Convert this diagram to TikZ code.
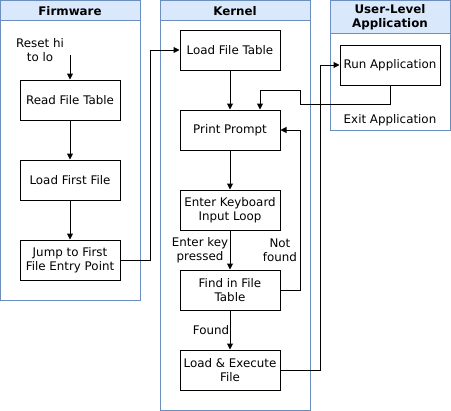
\documentclass[tikz,border=0pt]{standalone}
\usepackage{fontspec}
\setmainfont{DejaVu Sans}
\usetikzlibrary{arrows.meta}
\definecolor{laneborder}{HTML}{6C8EBF}
\definecolor{lanefill}{HTML}{DAE8FC}
\begin{document}
\begin{tikzpicture}[x=0.75pt,y=-0.75pt,
  every node/.style={font=\fontsize{8.9}{10.5}\selectfont, inner sep=0pt, align=center},
  stepbox/.style={draw=black, line width=0.75pt, minimum width=75pt, minimum height=30pt},
  lanebox/.style={draw=laneborder, line width=0.75pt},
  headbox/.style={draw=laneborder, fill=lanefill, line width=0.75pt},
  headtext/.style={font=\fontsize{8.9}{10.5}\selectfont\bfseries},
  conn/.style={draw=black, line width=0.75pt},
  arr/.style={conn, -{Triangle[length=4.5pt,width=4.5pt]}},
  lbl/.style={fill=white, inner sep=0.5pt}
]
\useasboundingbox (0,0) rectangle (451,411);
% lanes
\draw[lanebox] (0.5,0.5) rectangle (140,300);
\draw[headbox] (0.5,0.5) rectangle (140,20.5);
\node[headtext] (hfw) at (70,11) {Firmware};
\draw[lanebox] (160,0.5) rectangle (310,410);
\draw[headbox] (160,0.5) rectangle (310,20.5);
\node[headtext] (hk) at (235,11) {Kernel};
\draw[lanebox] (330,0.5) rectangle (450,130);
\draw[headbox] (330,0.5) rectangle (450,33);
\node[headtext] (hu) at (390,17) {User-Level\\Application};
% firmware
\node (reset) at (40,50) {Reset hi\\to lo};
\coordinate (rstart) at (70,55);
\node[stepbox] (rft) at (70,100) {Read File Table};
\node[stepbox] (lff) at (70,180) {Load First File};
\node[stepbox] (jmp) at (70,260) {Jump to First\\File Entry Point};
% kernel
\node[stepbox] (lft) at (230,50) {Load File Table};
\node[stepbox] (pp) at (230,130) {Print Prompt};
\node[stepbox] (ekl) at (230,210) {Enter Keyboard\\Input Loop};
\node[stepbox] (fft) at (230,290) {Find in File\\Table};
\node[stepbox] (lef) at (230,370) {Load \& Execute\\File};
% user
\node[stepbox] (ra) at (390,65) {Run Application};
\node (exit) at (390,120) {Exit Application};
% connectors
\draw[arr] (rstart) -- (rft);
\draw[arr] (rft) -- (lff);
\draw[arr] (lff) -- (jmp);
\draw[arr] (jmp.east) -- (150,260) -- (150,50) -- (lft.west);
\draw[arr] (lft) -- (pp);
\draw[arr] (ra.south) -- (390,104.5) -- (300,104.5) -- (300,90) -- (260,90) -- (pp.north -| 260,0);
\draw[arr] (pp) -- (ekl);
\draw[arr] (ekl) -- (fft);
\draw[arr] (fft.east) -- (300,290) -- (300,130) -- (pp.east);
\draw[arr] (fft) -- (lef);
\draw[arr] (lef.east) -- (320,370) -- (320,65) -- (ra.west);
% labels
\node[lbl] (l1) at (200,250) {Enter key\\pressed};
\node[lbl] (l2) at (280,250) {Not\\found};
\node[lbl] (l3) at (211,330) {Found};
\end{tikzpicture}
\end{document}
